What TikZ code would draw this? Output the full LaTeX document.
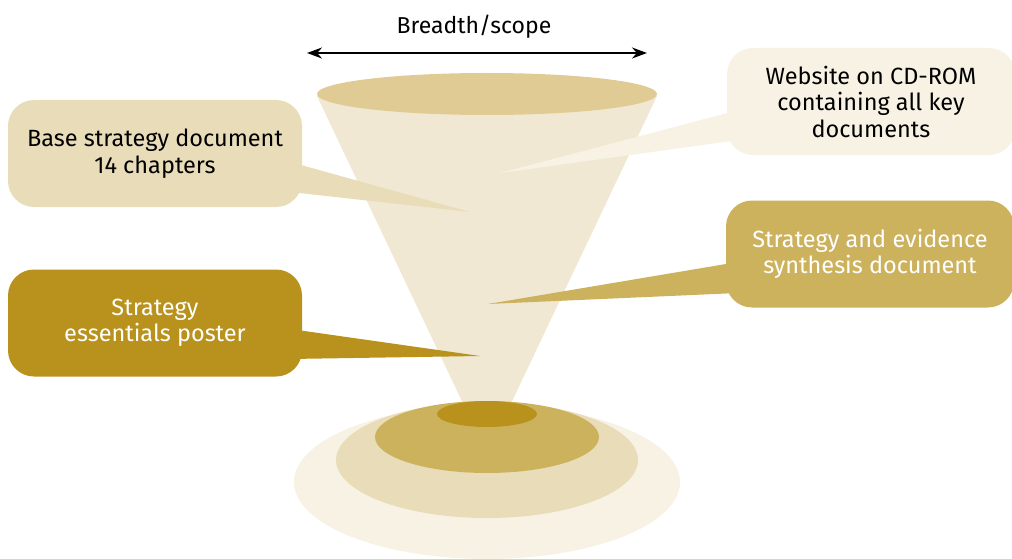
\documentclass[tikz,border=0pt]{standalone}
\usepackage{fontspec}
\setmainfont{Fira Sans}
\usetikzlibrary{positioning,calc,arrows.meta}
\definecolor{palecream}{HTML}{F7F2E4}
\definecolor{lightsand}{HTML}{E9DDB9}
\definecolor{conesand}{HTML}{F1E8D3}
\definecolor{topsand}{HTML}{DFCB93}
\definecolor{midgold}{HTML}{CDB25E}
\definecolor{darkgold}{HTML}{B8921D}
\tikzset{
  bubble/.style={rounded corners=26pt, minimum width=294pt, minimum height=107pt,
    align=center, inner sep=0pt, font=\fontsize{23.5}{26.5}\selectfont},
}

\begin{document}
\begin{tikzpicture}[x=1pt,y=-1pt]
    \useasboundingbox (0,0) rectangle (1012,559);
    %\draw[help lines,step=50] (0,0) grid (1012,559);

    % breadth arrow
    \node[font=\fontsize{23}{26}\selectfont] (breadth) at (474,27) {Breadth/scope};
    \coordinate (wideL) at (307,53);
    \coordinate (wideR) at (647,53);
    \draw[{Stealth[length=15pt,width=11pt]}-{Stealth[length=15pt,width=11pt]}, line width=2pt] (wideL) -- (wideR);

    % funnel
    \coordinate (coneL) at (317,96);
    \coordinate (coneR) at (657,96);
    \coordinate (apex) at (487,454);
    \fill[conesand] (coneL) -- (coneR) -- (apex) -- cycle;
    \fill[topsand] (487,94) ellipse [x radius=170, y radius=21];

    % rings at the base
    \fill[palecream] (487,482) ellipse [x radius=193, y radius=77];
    \fill[lightsand] (487,460) ellipse [x radius=151, y radius=58];
    \fill[midgold] (487,437) ellipse [x radius=112, y radius=36];
    \fill[darkgold] (487,414) ellipse [x radius=50, y radius=13];

    % callouts
    \node[bubble, fill=lightsand] (base) at (155,153.5) {Base strategy document\\14 chapters};
    \node[bubble, fill=palecream, minimum width=288pt] (web) at (871,101.5) {Website on CD-ROM\\containing all key\\documents};
    \node[bubble, fill=darkgold, text=white] (poster) at (155,323) {Strategy\\essentials poster};
    \node[bubble, fill=midgold, text=white, minimum width=288pt] (synth) at (870,254) {Strategy and evidence\\synthesis document};

    \coordinate (baseTip) at (470,212);
    \coordinate (webTip) at (500,173);
    \coordinate (posterTip) at (480,356);
    \coordinate (synthTip) at (488,304);

    \fill[lightsand] ($(base.east)+(-12,8.5)$) -- (baseTip) -- ($(base.east)+(-12,38.5)$) -- cycle;
    \fill[palecream] ($(web.west)+(12,8.5)$) -- (webTip) -- ($(web.west)+(12,38.5)$) -- cycle;
    \fill[darkgold] ($(poster.east)+(-12,6)$) -- (posterTip) -- ($(poster.east)+(-12,36)$) -- cycle;
    \fill[midgold] ($(synth.west)+(12,8)$) -- (synthTip) -- ($(synth.west)+(12,39)$) -- cycle;
\end{tikzpicture}
\end{document}
